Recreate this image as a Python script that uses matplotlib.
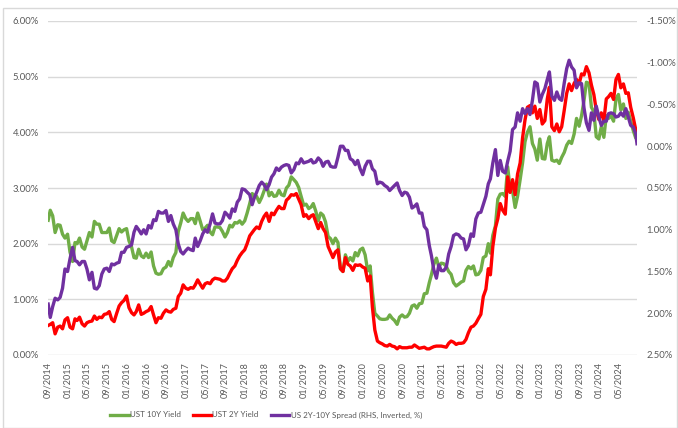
import matplotlib
matplotlib.use("Agg")
import matplotlib.pyplot as plt
import matplotlib.dates as mdates
import matplotlib.ticker as mticker
from matplotlib.patches import Rectangle
import pandas as pd
import numpy as np

# ---------------- data (semi-monthly readings: mid-month, month-end) ----------------
start_date = "2014-09-02"
end_date = "2024-08-23"
first_10y = 2.42
first_2y = 0.53

ust10 = [
    # 2014 Sep-Dec
    2.60, 2.50, 2.20, 2.34, 2.33, 2.17, 2.10, 2.17,
    # 2015
    1.85, 1.68, 2.02, 2.00, 2.10, 1.94, 1.90, 2.05, 2.20, 2.12, 2.40, 2.35,
    2.35, 2.20, 2.20, 2.20, 2.28, 2.05, 2.02, 2.15, 2.27, 2.21, 2.25, 2.27,
    # 2016
    2.05, 1.94, 1.75, 1.74, 1.90, 1.78, 1.75, 1.83, 1.75, 1.85, 1.60, 1.47,
    1.45, 1.46, 1.55, 1.58, 1.68, 1.60, 1.75, 1.84, 2.22, 2.37, 2.55, 2.45,
    # 2017
    2.40, 2.45, 2.45, 2.36, 2.55, 2.40, 2.25, 2.28, 2.33, 2.21, 2.16, 2.30,
    2.30, 2.29, 2.22, 2.12, 2.20, 2.33, 2.30, 2.38, 2.37, 2.41, 2.35, 2.41,
    # 2018
    2.55, 2.72, 2.90, 2.87, 2.85, 2.74, 2.83, 2.95, 3.07, 2.86, 2.92, 2.85,
    2.86, 2.96, 2.88, 2.86, 3.00, 3.05, 3.20, 3.15, 3.10, 3.01, 2.85, 2.69,
    # 2019
    2.71, 2.63, 2.66, 2.72, 2.59, 2.41, 2.55, 2.51, 2.39, 2.13, 2.09, 2.00,
    2.10, 2.02, 1.55, 1.50, 1.80, 1.68, 1.75, 1.69, 1.84, 1.78, 1.89, 1.92,
    # 2020
    1.80, 1.51, 1.60, 1.13, 0.75, 0.70, 0.65, 0.64, 0.64, 0.65, 0.72, 0.66,
    0.62, 0.55, 0.68, 0.72, 0.68, 0.69, 0.75, 0.88, 0.90, 0.84, 0.92, 0.93,
    # 2021
    1.10, 1.11, 1.30, 1.44, 1.63, 1.74, 1.58, 1.65, 1.64, 1.59, 1.50, 1.45,
    1.30, 1.24, 1.27, 1.31, 1.33, 1.52, 1.59, 1.55, 1.60, 1.44, 1.45, 1.52,
    # 2022
    1.75, 1.78, 2.00, 1.83, 2.15, 2.32, 2.80, 2.89, 2.90, 2.85, 3.38, 2.98,
    2.95, 2.65, 2.85, 3.15, 3.45, 3.83, 4.00, 4.10, 3.80, 3.70, 3.50, 3.88,
    # 2023
    3.53, 3.52, 3.80, 3.92, 3.50, 3.48, 3.50, 3.44, 3.55, 3.64, 3.77, 3.84,
    3.80, 3.97, 4.25, 4.11, 4.30, 4.57, 4.90, 4.88, 4.45, 4.37, 3.92, 3.88,
    # 2024 Jan-Aug
    4.10, 3.91, 4.30, 4.25, 4.30, 4.20, 4.60, 4.68, 4.40, 4.51, 4.25, 4.36,
    4.20, 4.03, 3.90, 3.92,
]

ust2 = [
    # 2014 Sep-Dec
    0.55, 0.58, 0.38, 0.50, 0.52, 0.47, 0.63, 0.67,
    # 2015
    0.50, 0.47, 0.65, 0.62, 0.68, 0.56, 0.52, 0.58, 0.60, 0.61, 0.70, 0.64,
    0.68, 0.67, 0.73, 0.74, 0.78, 0.64, 0.60, 0.75, 0.88, 0.94, 0.98, 1.06,
    # 2016
    0.85, 0.76, 0.72, 0.78, 0.90, 0.73, 0.75, 0.78, 0.80, 0.87, 0.72, 0.58,
    0.67, 0.66, 0.75, 0.81, 0.78, 0.77, 0.82, 0.84, 1.05, 1.11, 1.26, 1.20,
    # 2017
    1.18, 1.21, 1.20, 1.26, 1.35, 1.27, 1.20, 1.28, 1.30, 1.28, 1.35, 1.38,
    1.37, 1.36, 1.33, 1.33, 1.38, 1.47, 1.55, 1.60, 1.70, 1.78, 1.84, 1.89,
    # 2018
    2.00, 2.14, 2.20, 2.25, 2.30, 2.27, 2.40, 2.49, 2.55, 2.40, 2.55, 2.52,
    2.60, 2.67, 2.63, 2.63, 2.78, 2.82, 2.88, 2.87, 2.90, 2.80, 2.70, 2.49,
    # 2019
    2.52, 2.45, 2.50, 2.52, 2.40, 2.27, 2.38, 2.27, 2.20, 1.95, 1.85, 1.75,
    1.85, 1.89, 1.55, 1.50, 1.75, 1.63, 1.60, 1.52, 1.62, 1.61, 1.62, 1.58,
    # 2020
    1.56, 1.33, 1.42, 0.86, 0.45, 0.25, 0.22, 0.20, 0.17, 0.16, 0.19, 0.16,
    0.15, 0.11, 0.15, 0.13, 0.13, 0.13, 0.14, 0.14, 0.18, 0.15, 0.12, 0.13,
    # 2021
    0.14, 0.11, 0.11, 0.13, 0.15, 0.16, 0.16, 0.16, 0.15, 0.14, 0.21, 0.25,
    0.23, 0.19, 0.21, 0.21, 0.22, 0.28, 0.40, 0.50, 0.52, 0.57, 0.65, 0.73,
    # 2022
    1.05, 1.18, 1.55, 1.44, 1.95, 2.28, 2.45, 2.72, 2.60, 2.53, 3.20, 2.92,
    3.15, 2.88, 3.25, 3.45, 3.90, 4.22, 4.45, 4.48, 4.35, 4.47, 4.25, 4.41,
    # 2023
    4.15, 4.21, 4.60, 4.81, 4.10, 4.03, 4.15, 4.01, 4.10, 4.40, 4.70, 4.87,
    4.75, 4.88, 4.95, 4.87, 5.05, 5.03, 5.18, 5.07, 4.85, 4.68, 4.40, 4.23,
    # 2024 Jan-Aug
    4.35, 4.21, 4.60, 4.64, 4.70, 4.59, 4.95, 5.04, 4.80, 4.87, 4.70, 4.71,
    4.45, 4.26, 4.05, 3.95,
]

left_ticks = [0, 1, 2, 3, 4, 5, 6]
right_ticks = [-1.5, -1.0, -0.5, 0.0, 0.5, 1.0, 1.5, 2.0, 2.5]

series_names = ["UST 10Y Yield", "UST 2Y Yield", "US 2Y-10Y Spread (RHS, Inverted, %)"]
colors = ["#70AD47", "#FF0000", "#7030A0"]

# ---------------- dates ----------------
months = pd.period_range("2014-09", "2024-08", freq="M")
dates = [pd.Timestamp(start_date)]
for m in months:
    dates.append(pd.Timestamp(year=m.year, month=m.month, day=15))
    dates.append(m.to_timestamp(how="end").normalize())
dates[-1] = pd.Timestamp(end_date)

y10 = np.array([first_10y] + ust10)
y2 = np.array([first_2y] + ust2)
spread = y10 - y2

# ---------------- figure ----------------
W, H = 678, 428
fig = plt.figure(figsize=(W / 100, H / 100), dpi=100)
plt.rcParams["font.family"] = ["Lato", "DejaVu Sans"]
txt = "#595959"

ax = fig.add_axes([48 / W, 1 - 355 / H, (637 - 48) / W, (355 - 21) / H])
ax2 = ax.twinx()

LW = 2.4
l1, = ax.plot(dates, y10, color=colors[0], lw=LW, solid_joinstyle="round")
l2, = ax.plot(dates, y2, color=colors[1], lw=LW, solid_joinstyle="round")
l3, = ax2.plot(dates, spread, color=colors[2], lw=LW, solid_joinstyle="round")

ax.set_ylim(0, 6)
ax.set_yticks(left_ticks)
ax.yaxis.set_major_formatter(mticker.FuncFormatter(lambda v, p: f"{v:.2f}%"))
ax2.set_ylim(2.5, -1.5)
ax2.set_yticks(right_ticks)
ax2.yaxis.set_major_formatter(mticker.FuncFormatter(lambda v, p: f"{v + 0.0:.2f}%"))

ax.set_xlim(pd.Timestamp("2014-09-01"), pd.Timestamp(end_date))
xt = pd.date_range("2014-09-01", "2024-05-01", freq="4MS")
ax.set_xticks(xt)
ax.set_xticklabels([d.strftime("%m/%Y") for d in xt], rotation=90)

ax.grid(axis="y", color="#D9D9D9", lw=1.0)
ax.set_axisbelow(True)
for a in (ax, ax2):
    for s in a.spines.values():
        s.set_visible(False)
ax.tick_params(axis="both", length=0, colors=txt, labelsize=6.8)
ax.tick_params(axis="x", pad=5, labelsize=6.6)
ax.tick_params(axis="y", pad=6.5)
ax2.tick_params(axis="y", length=0, colors=txt, labelsize=6.8, pad=7)

ax.set_zorder(1)
ax2.set_zorder(2)

leg = fig.legend([l1, l2, l3], series_names, loc="center",
                 bbox_to_anchor=(266 / W, 1 - 415 / H), ncol=3, frameon=False,
                 fontsize=5.8, handlelength=2.3, handletextpad=0.15,
                 columnspacing=1.5)
for t in leg.get_texts():
    t.set_color(txt)
for h in leg.get_lines():
    h.set_linewidth(2.4)

fig.patches.append(Rectangle((3 / W, 0), (W - 4) / W, 1 - 8 / H,
                             transform=fig.transFigure, fill=False,
                             edgecolor="#D9D9D9", lw=1.0))

fig.savefig("out.png", dpi=100)
